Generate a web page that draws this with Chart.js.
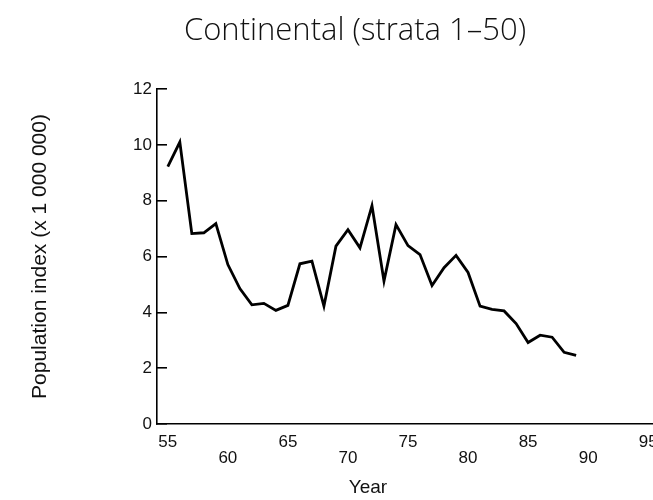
<!DOCTYPE html>
<html>
<head>
<meta charset="utf-8">
<script src="https://cdn.jsdelivr.net/npm/chart.js@4/dist/chart.umd.min.js"></script>
<style>
  html, body { margin: 0; padding: 0; background: #fff; }
  #wrap { width: 653px; height: 500px; }
</style>
</head>
<body>
<div id="wrap"><canvas id="myChart"></canvas></div>
<script>
// data
const years = [1955, 1956, 1957, 1958, 1959, 1960, 1961, 1962, 1963, 1964,
  1965, 1966, 1967, 1968, 1969, 1970, 1971, 1972, 1973, 1974,
  1975, 1976, 1977, 1978, 1979, 1980, 1981, 1982, 1983, 1984,
  1985, 1986, 1987, 1988, 1989];
const popIndex = [9.22, 10.1, 6.82, 6.85, 7.18, 5.71, 4.85, 4.27, 4.32, 4.07,
  4.25, 5.74, 5.83, 4.22, 6.37, 6.96, 6.31, 7.82, 5.12, 7.14,
  6.39, 6.07, 4.96, 5.6, 6.04, 5.43, 4.22, 4.11, 4.05, 3.6,
  2.92, 3.18, 3.11, 2.57, 2.46];
const xTicks = [55, 60, 65, 70, 75, 80, 85, 90, 95];
const yTicks = [0, 2, 4, 6, 8, 10, 12];

const chartTitle = 'Continental (strata 1\u201350)';
const xTitle = 'Year';
const yTitle = 'Population index (x 1 000 000)';

const ink = '#111';

// title and x-axis caption are drawn here so they can sit off-centre like the original
const captions = {
  id: 'captions',
  afterDraw(chart) {
    const ctx = chart.ctx;
    const area = chart.chartArea;
    ctx.save();
    ctx.fillStyle = ink;
    ctx.textAlign = 'center';
    ctx.textBaseline = 'middle';
    if ('fontStretch' in ctx) ctx.fontStretch = 'condensed';
    ctx.font = '300 31px "Open Sans", "DejaVu Sans", sans-serif';
    ctx.fillText(chartTitle, area.left + 198, 31);
    if ('fontStretch' in ctx) ctx.fontStretch = 'normal';
    ctx.font = '19px "Liberation Sans", Arial, sans-serif';
    ctx.fillText(xTitle, area.left + 211, 488);
    ctx.restore();
  }
};

const ctx = document.getElementById('myChart').getContext('2d');
new Chart(ctx, {
  type: 'line',
  data: {
    datasets: [{
      data: years.map((y, i) => ({ x: y - 1900, y: popIndex[i] })),
      borderColor: '#000',
      borderWidth: 2.8,
      pointRadius: 0,
      tension: 0,
      fill: false
    }]
  },
  options: {
    responsive: true,
    maintainAspectRatio: false,
    animation: false,
    devicePixelRatio: 1,
    layout: { padding: { top: 89, left: 0, right: 0, bottom: 0 } },
    plugins: {
      legend: { display: false },
      tooltip: { enabled: false },
      title: { display: false }
    },
    scales: {
      x: {
        type: 'linear',
        min: 54.1,
        max: 95.4,
        afterBuildTicks: (s) => { s.ticks = xTicks.map(v => ({ value: v })); },
        afterFit: (s) => { s.height = 76; s.paddingLeft = 0; s.paddingRight = 0; },
        grid: { display: false, drawTicks: false },
        border: { display: true, color: '#000', width: 1.6 },
        ticks: {
          autoSkip: false,
          maxRotation: 0,
          padding: 10,
          color: ink,
          font: { family: '"Liberation Sans", Arial, sans-serif', size: 17, lineHeight: 0.95 },
          // every other label drops to a second row, as in the original
          callback: (v) => (xTicks.indexOf(v) % 2 === 1 ? ['', String(v)] : String(v))
        }
      },
      y: {
        min: 0,
        max: 12,
        afterBuildTicks: (s) => { s.ticks = yTicks.map(v => ({ value: v })); },
        afterFit: (s) => { s.width = 157; },
        grid: { drawOnChartArea: false, drawTicks: true, tickLength: -10, color: '#000', lineWidth: 1.6 },
        border: { display: true, color: '#000', width: 1.6 },
        ticks: {
          padding: 15,
          color: ink,
          font: { family: '"Liberation Sans", Arial, sans-serif', size: 17 }
        },
        title: {
          display: true,
          text: yTitle,
          color: ink,
          padding: { top: 28, bottom: 0 },
          font: { family: '"Liberation Sans", Arial, sans-serif', size: 21 }
        }
      }
    }
  },
  plugins: [captions]
});
</script>
</body>
</html>
